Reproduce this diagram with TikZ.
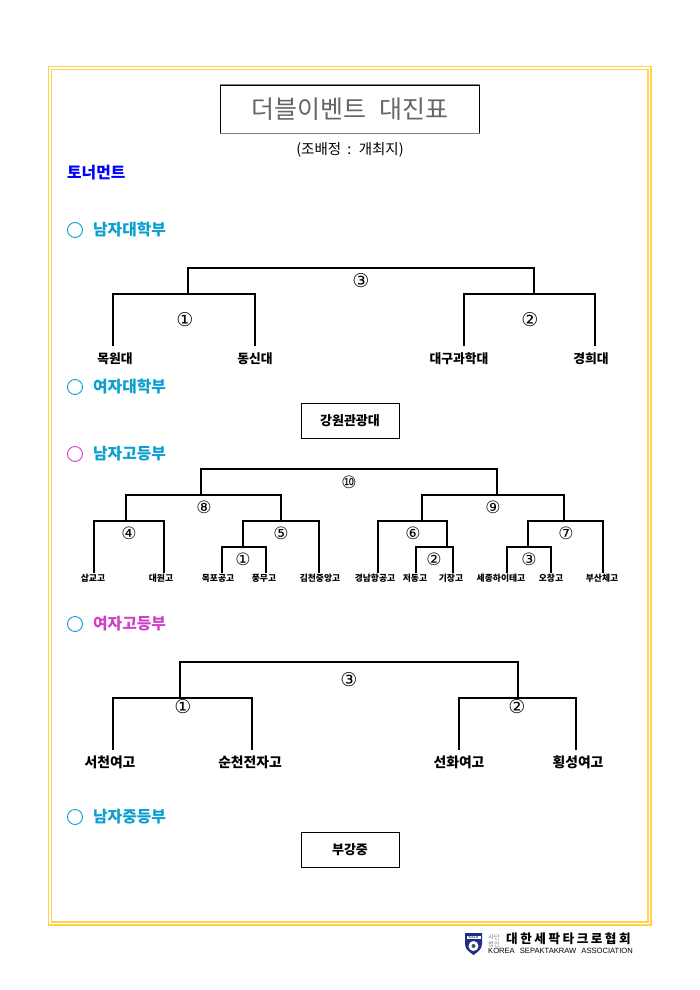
\documentclass[tikz,border=0pt]{standalone}
\usepackage{fontspec}
\setmainfont{Noto Sans CJK KR}
\newfontfamily\symf{DejaVu Sans}
\newfontfamily\latf{Liberation Sans}
\newfontfamily\spcd[LetterSpace=20]{Noto Sans CJK KR}
\definecolor{frameY}{HTML}{FFD24F}
\definecolor{headC}{HTML}{0A9FD0}
\definecolor{headM}{HTML}{D040C8}
\definecolor{titleG}{HTML}{666666}
\definecolor{shieldB}{HTML}{1F2F80}
\tikzset{
  px/.style={x=1pt,y=-1pt},
  brk/.style={draw=black,line width=1.2pt},
  num/.style={font=\symf\fontsize{19}{19}\selectfont,inner sep=0pt},
  numS/.style={font=\symf\fontsize{17}{17}\selectfont,inner sep=0pt},
  teamL/.style={font=\bfseries\fontsize{12.8}{13}\selectfont,inner sep=0pt},
  teamS/.style={font=\bfseries\fontsize{8.8}{9}\selectfont,inner sep=0pt},
  teamM/.style={font=\bfseries\fontsize{13.8}{14}\selectfont,inner sep=0pt},
  head/.style={font=\fontsize{15.8}{16}\selectfont\bfseries,text=headC,anchor=west,inner sep=0pt},
  ring/.style={circle,draw=headC,line width=0.9pt,minimum size=15pt,inner sep=0pt},
  champ/.style={draw=black,line width=0.8pt,minimum width=98pt,minimum height=35pt,inner sep=0pt,font=\bfseries\fontsize{13}{13}\selectfont},
}
\begin{document}
\begin{tikzpicture}[px]
\useasboundingbox (0,0) rectangle (700,990);
\fill[white] (0,0) rectangle (700,990);
% frame
\draw[frameY,line width=1.2pt] (48.5,66.5) rectangle (651,925);
\draw[frameY,line width=1.2pt] (51.5,69.5) rectangle (648,922);
% title
\node[draw=black,line width=0.6pt,minimum width=259pt,minimum height=48pt,inner sep=0pt,text=titleG,font=\fontsize{25}{25}\selectfont] (title) at (350,109) {더블이벤트\hspace{13pt}대진표};
\draw[gray,line width=1pt] (title.north west) -- (title.north east);
\draw[gray,line width=1pt] (title.south west) -- (title.south east);
\node[font=\fontsize{14.5}{15}\selectfont,inner sep=0pt] (sub) at (350,150) {(조배정\hspace{3pt} : \hspace{3pt}개최지)};
\node[font=\bfseries\fontsize{15.8}{16}\selectfont,text=blue,anchor=west,inner sep=0pt] (tour) at (67,173) {토너먼트};

% headings
\node[ring] (r1) at (75,230) {};
\node[head] (h1) at (93,230) {남자대학부};
\node[ring] (r2) at (75,387) {};
\node[head] (h2) at (93,387) {여자대학부};
\node[ring,draw=headM] (r3) at (75,454) {};
\node[head] (h3) at (93,454) {남자고등부};
\node[ring] (r4) at (75,624) {};
\node[head,text=headM] (h4) at (93,624) {여자고등부};
\node[ring] (r5) at (75,817) {};
\node[head] (h5) at (93,817) {남자중등부};

% single boxes
\node[champ] (c1) at (350,420.5) {강원관광대};
\node[champ] (c2) at (350,849.5) {부강중};

% --- men's university
\node[teamL] (a1) at (115,358.5) {목원대};
\node[teamL] (a2) at (255,358.5) {동신대};
\node[teamL] (a3) at (459,358.5) {대구과학대};
\node[teamL] (a4) at (591,358.5) {경희대};
\coordinate (a1e) at (113,346);
\coordinate (a2e) at (255,346);
\coordinate (a3e) at (464,346);
\coordinate (a4e) at (595,346);
\coordinate (aL) at (188,294);
\coordinate (aR) at (534,294);
\coordinate (aT) at (361,268);
\draw[brk] (a1e) |- (aL) -| (a2e);
\draw[brk] (a3e) |- (aR) -| (a4e);
\draw[brk] (aL) |- (aT) -| (aR);
\node[num] (an3) at (361,281) {③};
\node[num] (an1) at (185,320) {①};
\node[num] (an2) at (530,320) {②};

% --- men's high school
\foreach \n/\x/\t in {b1/93/삽교고,b2/161/대원고,b3/218/목포공고,b4/264/풍무고,b5/320/김천중앙고,b6/375/경남항공고,b7/415/저동고,b8/451/기장고,b9/501/세종하이테고,b10/551/오창고,b11/602/부산체고}
  \node[teamS] (\n) at (\x,578.5) {\t};
\coordinate (b1e) at (94,573);
\coordinate (b2e) at (164,573);
\coordinate (b3e) at (222,573);
\coordinate (b4e) at (266,573);
\coordinate (b5e) at (319,573);
\coordinate (b6e) at (378,573);
\coordinate (b7e) at (416,573);
\coordinate (b8e) at (453,573);
\coordinate (b9e) at (507,573);
\coordinate (b10e) at (551,573);
\coordinate (b11e) at (603,573);
% level 4
\coordinate (g1) at (243,547);
\coordinate (g2) at (447,547);
\coordinate (g3) at (528,547);
\draw[brk] (b3e) |- (g1) -| (b4e);
\draw[brk] (b7e) |- (g2) -| (b8e);
\draw[brk] (b9e) |- (g3) -| (b10e);
% level 3
\coordinate (f4) at (126,521);
\coordinate (f5) at (281,521);
\coordinate (f6) at (422,521);
\coordinate (f7) at (564,521);
\draw[brk] (b1e) |- (f4) -| (b2e);
\draw[brk] (g1) |- (f5) -| (b5e);
\draw[brk] (b6e) |- (f6) -| (g2);
\draw[brk] (g3) |- (f7) -| (b11e);
% level 2
\coordinate (e8) at (201,495);
\coordinate (e9) at (497,495);
\draw[brk] (f4) |- (e8) -| (f5);
\draw[brk] (f6) |- (e9) -| (f7);
\coordinate (d10) at (349,469);
\draw[brk] (e8) |- (d10) -| (e9);
\foreach \n/\x/\y/\t in {n10/349/482/⑩,n8/204/507/⑧,n9/493/507/⑨,n4/129/533/④,n5/281/533/⑤,n1/243/559/①,n6/413/533/⑥,n2/434/559/②,n3/529/559/③,n7/566/533/⑦}
  \node[numS] (\n) at (\x,\y) {\t};

% --- women's high school
\node[teamM] (w1) at (110,762.5) {서천여고};
\node[teamM] (w2) at (250,762.5) {순천전자고};
\node[teamM] (w3) at (459,762.5) {선화여고};
\node[teamM] (w4) at (578,762.5) {횡성여고};
\coordinate (w1e) at (113,750);
\coordinate (w2e) at (252,750);
\coordinate (w3e) at (459,750);
\coordinate (w4e) at (576,750);
\coordinate (wL) at (180,698);
\coordinate (wR) at (518,698);
\coordinate (wT) at (349,662);
\draw[brk] (w1e) |- (wL) -| (w2e);
\draw[brk] (w3e) |- (wR) -| (w4e);
\draw[brk] (wL) |- (wT) -| (wR);
\node[num] (wn3) at (349,680) {③};
\node[num] (wn1) at (183,707) {①};
\node[num] (wn2) at (517,707) {②};

% --- logo
\fill[shieldB] (465,933) -- (482,933) -- (482,944) .. controls (482,950) and (477,952) .. (473.5,955) .. controls (470,952) and (465,950) .. (465,944) -- cycle;
\fill[white] (466.5,935.5) rectangle (480.5,939);
\node[font=\latf\bfseries\fontsize{3.6}{4}\selectfont,text=shieldB,inner sep=0pt] (ksta) at (473.5,937.3) {KSTA};
\fill[white] (473.5,946) circle (5);
\fill[black!70] (473.5,946) circle (2);
\node[font=\fontsize{6}{6.5}\selectfont,text=gray,inner sep=0pt] (l1) at (494,937) {사단};
\node[font=\fontsize{6}{6.5}\selectfont,text=gray,inner sep=0pt] (l2) at (494,944) {법인};
\node[font=\spcd\bfseries\fontsize{12.6}{13}\selectfont,anchor=west,inner sep=0pt] (l3) at (506,938.5) {대한세팍타크로협회};
\node[font=\latf\fontsize{7.6}{8}\selectfont,anchor=west,inner sep=0pt] (l4) at (488,950.5) {KOREA\hspace{3pt} SEPAKTAKRAW\hspace{3pt} ASSOCIATION};
\end{tikzpicture}
\end{document}
